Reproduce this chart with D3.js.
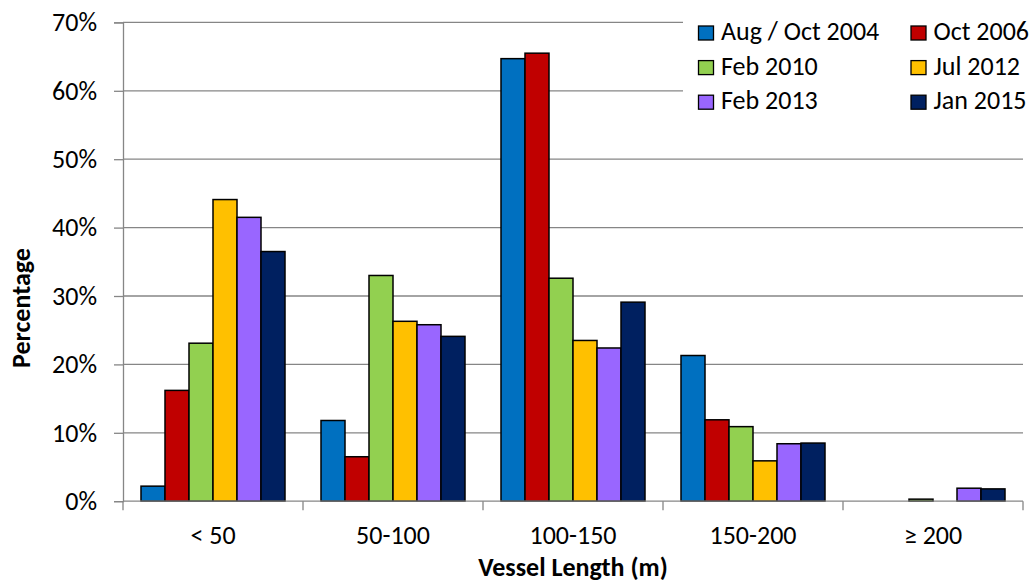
<!DOCTYPE html>
<html><head><meta charset="utf-8">
<script src="https://cdn.jsdelivr.net/npm/d3@7"></script>
<style>body{margin:0;background:#fff;} text{font-family:Calibri,Carlito,"Noto Sans",sans-serif;fill:#000;}</style>
</head><body>
<svg id="c" width="1032" height="582"></svg>
<script>
const categories = ["< 50", "50-100", "100-150", "150-200", "\u2265 200"];
const seriesNames = ["Aug / Oct 2004", "Oct 2006", "Feb 2010", "Jul 2012", "Feb 2013", "Jan 2015"];
const seriesColors = ["#0070C0", "#C00000", "#92D050", "#FFC000", "#9966FF", "#002060"];
const aug2004 = [2.2, 11.8, 64.7, 21.3, 0];
const oct2006 = [16.2, 6.5, 65.5, 11.9, 0];
const feb2010 = [23.1, 33.0, 32.6, 10.9, 0.3];
const jul2012 = [44.1, 26.3, 23.5, 5.9, 0];
const feb2013 = [41.5, 25.8, 22.4, 8.4, 1.9];
const jan2015 = [36.5, 24.1, 29.1, 8.5, 1.8];
const yTicks = [0, 10, 20, 30, 40, 50, 60, 70];

const seriesValues = [aug2004, oct2006, feb2010, jul2012, feb2013, jan2015];
const svg = d3.select("#c");
const FF = 'Calibri,Carlito,"Noto Sans",sans-serif';
const L = 123, R = 1023, T = 22.4, B = 501.2;
const x = d3.scaleBand().domain(categories).range([L, R]).paddingInner(0.2).paddingOuter(0.1);
const xs = d3.scaleBand().domain(seriesNames).range([0, x.bandwidth()]);
const y = d3.scaleLinear().domain([0, 70]).range([B, T]);
const grey = "#868686";

// gridlines
svg.append("g").selectAll("line").data(yTicks.filter(d => d > 0)).join("line")
  .attr("x1", L).attr("x2", R).attr("y1", d => y(d)).attr("y2", d => y(d))
  .attr("stroke", grey).attr("stroke-width", 1.3);

// bars
const g = svg.append("g");
seriesValues.forEach((vals, si) => {
  g.append("g").selectAll("rect").data(vals).join("rect")
    .attr("x", (d, i) => x(categories[i]) + xs(seriesNames[si]))
    .attr("y", d => y(d))
    .attr("width", xs.bandwidth())
    .attr("height", d => B - y(d))
    .attr("fill", seriesColors[si])
    .attr("stroke", "#000").attr("stroke-width", 1.5);
});

// y axis
const yAxis = d3.axisLeft(y).tickValues(yTicks).tickFormat(d => d + "%").tickSize(9).tickPadding(17);
const ya = svg.append("g").attr("transform", `translate(${L},0)`).call(yAxis);
ya.select(".domain").attr("stroke", grey).attr("stroke-width", 1.3);
ya.selectAll(".tick line").attr("stroke", grey).attr("stroke-width", 1.3);
ya.selectAll("text").attr("font-size", 26).style("font-family", FF).attr("fill", "#000");

// x axis
const xa = svg.append("g").attr("transform", `translate(0,${B})`);
xa.append("line").attr("x1", L).attr("x2", R).attr("stroke", grey).attr("stroke-width", 1.3);
const bounds = categories.map(c => x(c) - x.step() * x.paddingInner() / 2).concat([R]);
bounds[0] = L;
xa.selectAll("line.tk").data(bounds).join("line").attr("class", "tk")
  .attr("x1", d => d).attr("x2", d => d).attr("y1", 0).attr("y2", 9)
  .attr("stroke", grey).attr("stroke-width", 1.3);
xa.selectAll("text").data(categories).join("text")
  .attr("x", d => x(d) + x.bandwidth() / 2).attr("y", 43)
  .attr("text-anchor", "middle").attr("font-size", 26).text(d => d);

// axis titles
svg.append("text").attr("x", (L + R) / 2).attr("y", 576).attr("text-anchor", "middle")
  .attr("font-size", 26).attr("font-weight", "bold").text("Vessel Length (m)");
svg.append("text").attr("transform", `translate(30,308) rotate(-90)`)
  .attr("text-anchor", "middle").attr("font-size", 26).attr("font-weight", "bold").text("Percentage");

// legend
const lg = svg.append("g");
lg.append("rect").attr("x", 683).attr("y", 14).attr("width", 349).attr("height", 104).attr("fill", "#fff");
seriesNames.forEach((n, i) => {
  const col = i % 2, row = Math.floor(i / 2);
  const lx = col === 0 ? 698.5 : 911;
  const base = 40 + row * 34.6;
  lg.append("rect").attr("x", lx).attr("y", base - 14).attr("width", 15).attr("height", 14)
    .attr("fill", seriesColors[i]).attr("stroke", "#000").attr("stroke-width", 1.3);
  lg.append("text").attr("x", lx + 22.5).attr("y", base)
    .attr("font-size", 26).text(n);
});
</script>
</body></html>
